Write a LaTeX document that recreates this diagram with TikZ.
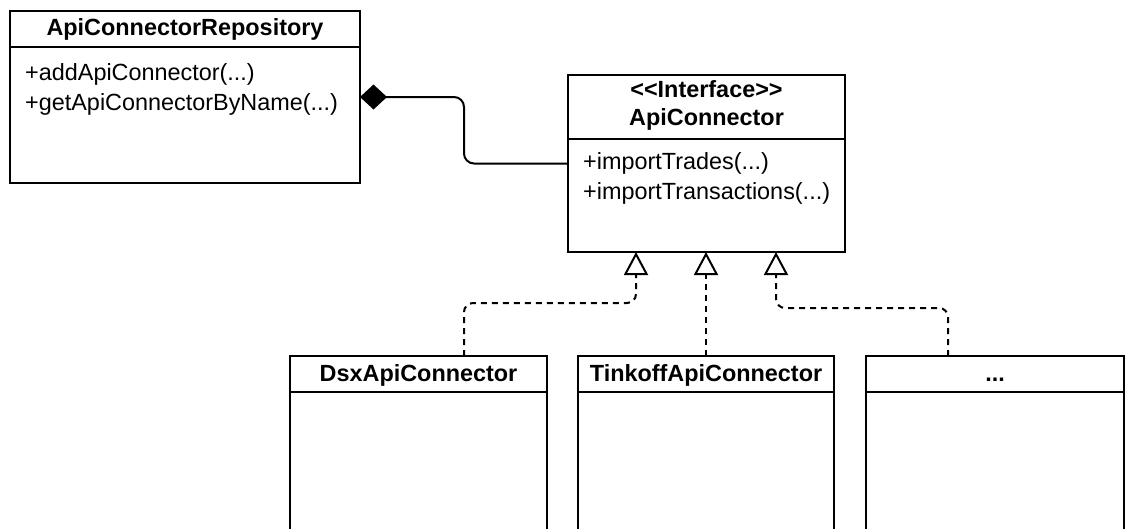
\documentclass[tikz,border=0pt]{standalone}
\usepackage{fontspec}
\setmainfont{Liberation Sans}[Ligatures=TeXOff]
\usetikzlibrary{arrows.meta,calc}
\begin{document}
\begin{tikzpicture}[x=1pt,y=-1pt,
  umlfont/.style={font=\fontsize{23.4}{28}\selectfont},
  classbox/.style={draw, line width=2pt, rectangle, inner sep=0pt, outer sep=0pt, anchor=north west},
  divider/.style={line width=2pt},
  classname/.style={umlfont, font=\fontsize{23.4}{28}\selectfont\bfseries, inner sep=0pt, anchor=base},
  member/.style={umlfont, inner sep=0pt, anchor=base west},
  composition/.style={line width=2pt, rounded corners=10pt},
  compositiontip/.style={line width=2pt, {Diamond[length=27pt,width=25pt,fill=black]}-},
  realization/.style={line width=2pt, dash pattern=on 6pt off 5pt, rounded corners=9pt,
    -{Triangle[open,length=23pt,width=24pt,fill=white]}},
]
\useasboundingbox (0,0) rectangle (1126,528);
\clip (0,0) rectangle (1126,528);

% class boxes
\node[classbox, minimum width=350pt, minimum height=172pt] (repo) at (10,11) {};
\node[classbox, minimum width=277pt, minimum height=177pt] (api) at (568,75) {};
\node[classbox, minimum width=257pt, minimum height=220pt] (dsx) at (290,356) {};
\node[classbox, minimum width=256pt, minimum height=220pt] (tinkoff) at (578,356) {};
\node[classbox, minimum width=258pt, minimum height=220pt] (more) at (866,356) {};

% compartment dividers
\draw[divider] ($(repo.north west)+(0,36)$) -- ($(repo.north east)+(0,36)$);
\draw[divider] ($(api.north west)+(0,64)$) -- ($(api.north east)+(0,64)$);
\draw[divider] ($(dsx.north west)+(0,36)$) -- ($(dsx.north east)+(0,36)$);
\draw[divider] ($(tinkoff.north west)+(0,36)$) -- ($(tinkoff.north east)+(0,36)$);
\draw[divider] ($(more.north west)+(0,36)$) -- ($(more.north east)+(0,36)$);

% names and members
\node[classname] (repoName) at (185,35) {ApiConnectorRepository};
\node[member] (repoAdd) at (25,80) {+addApiConnector(...)};
\node[member] (repoGet) at (25,110) {+getApiConnectorByName(...)};

\node[classname] (apiStereo) at (706.5,97) {<<Interface>>};
\node[classname] (apiName) at (706.5,125) {ApiConnector};
\node[member] (apiTrades) at (583,169) {+importTrades(...)};
\node[member] (apiTrans) at (583,199) {+importTransactions(...)};

\node[classname] (dsxName) at (418.5,381) {DsxApiConnector};
\node[classname] (tinkoffName) at (706,381) {TinkoffApiConnector};
\node[classname] (moreName) at (995,381) {...};

% composition: repository owns connectors
\coordinate (bend) at (464,0);
\draw[composition] (repo.east) -- (repo.east -| bend) -- (api.west -| bend) -- (api.west);
\draw[compositiontip] (repo.east) -- ($(repo.east)+(32,0)$);

% realizations of the interface
\coordinate (t1) at (636,0);
\coordinate (t3) at (776,0);
\coordinate (j1) at (464,303);
\coordinate (j3) at (948,308);
\draw[realization] (dsx.north -| j1) -- (j1) -- (j1 -| t1) -- (api.south -| t1);
\draw[realization] (tinkoff.north) -- (api.south -| tinkoff.north);
\draw[realization] (more.north -| j3) -- (j3) -- (j3 -| t3) -- (api.south -| t3);
\end{tikzpicture}
\end{document}
